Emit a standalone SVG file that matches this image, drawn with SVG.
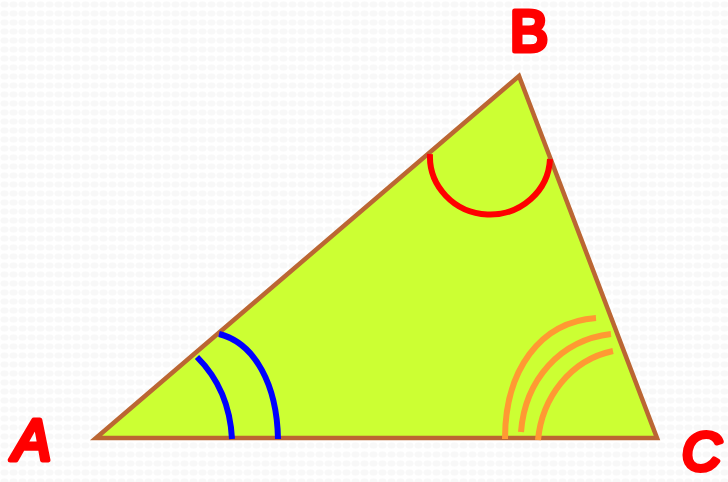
<svg xmlns="http://www.w3.org/2000/svg" width="728" height="482" viewBox="0 0 728 482">
<defs>
<pattern id="bg" width="9" height="9" patternUnits="userSpaceOnUse">
<rect width="9" height="9" fill="#ffffff"/>
<ellipse cx="4.5" cy="4.5" rx="4" ry="3" fill="#f8f8f8"/>
</pattern>
</defs>
<style>
.lbl{font-family:"Liberation Sans","DejaVu Sans",sans-serif;font-size:57px;fill:#ff0000;stroke:#ff0000;stroke-width:5;stroke-linejoin:round;stroke-linecap:round}
.it{font-style:italic}
.arc{fill:none;stroke-width:6}
</style>
<rect width="728" height="482" fill="url(#bg)"/>
<g id="triangle">
<polygon points="96,438 519,76 657,438" fill="#ccff33" stroke="#bb6633" stroke-width="4.5" stroke-linejoin="miter"/>
</g>
<g id="angles">
<path class="arc" stroke="#ff0000" d="M430,154 A60,58 0 0 0 550,159"/>
<path class="arc" stroke="#0000ff" d="M219,334 C255,343 277,385 278,439"/>
<path class="arc" stroke="#0000ff" d="M197,357 C215,375 230,400 232,439"/>
<path class="arc" stroke="#ff9933" d="M596,318 C540,322 505,370 505,439"/>
<path class="arc" stroke="#ff9933" d="M611,334 C560,340 525,380 521,432"/>
<path class="arc" stroke="#ff9933" d="M613,351 C570,360 542,398 538,440"/>
</g>
<g id="labels">
<text class="lbl it" x="13" y="460">A</text>
<text class="lbl" x="510" y="51">B</text>
<text class="lbl it" x="682" y="470" style="font-size:54px">C</text>
</g>
</svg>
